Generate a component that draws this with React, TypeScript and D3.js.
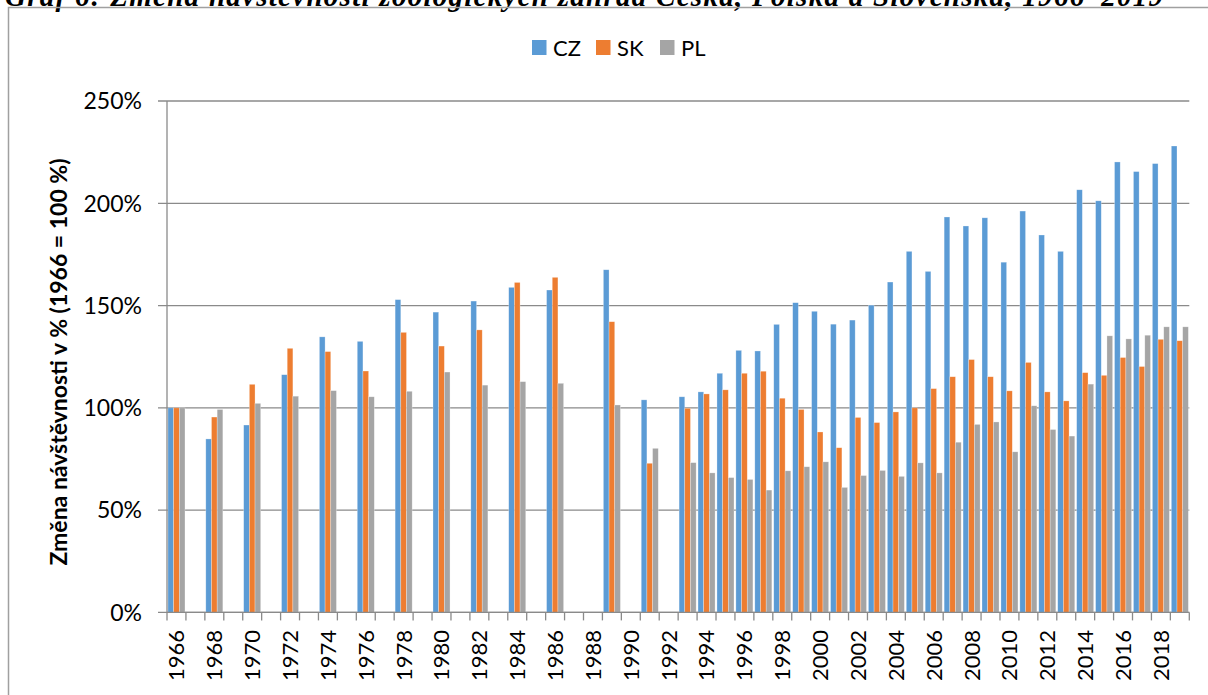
import { useEffect, useRef } from 'react';
import * as d3 from 'd3';

// kategorie (roky) a hodnoty v % (1966 = 100 %)
const YEARS = [
  1966, 1967, 1968, 1969, 1970, 1971, 1972, 1973, 1974, 1975,
  1976, 1977, 1978, 1979, 1980, 1981, 1982, 1983, 1984, 1985,
  1986, 1987, 1988, 1989, 1990, 1991, 1992, 1993, 1994, 1995,
  1996, 1997, 1998, 1999, 2000, 2001, 2002, 2003, 2004, 2005,
  2006, 2007, 2008, 2009, 2010, 2011, 2012, 2013, 2014, 2015,
  2016, 2017, 2018, 2019,
];
const LABELED_YEARS = YEARS.filter((y) => y % 2 === 0);

const CZ = [
  100, null, 84.8, null, 91.6, null, 116.2, null, 134.7, null,
  132.5, null, 152.9, null, 146.8, null, 152.2, null, 158.9, null,
  157.6, null, null, 167.5, null, 103.9, null, 105.4, 107.8, 116.9,
  128.1, 127.8, 140.8, 151.4, 147.2, 140.9, 142.9, 150.2, 161.5, 176.5,
  166.7, 193.3, 188.9, 192.9, 171.2, 196.2, 184.5, 176.5, 206.6, 201.2,
  220.2, 215.5, 219.4, 228.0,
];
const SK = [
  100, null, 95.5, null, 111.5, null, 129.1, null, 127.5, null,
  118.0, null, 136.9, null, 130.2, null, 138.1, null, 161.3, null,
  163.8, null, null, 142.1, null, 72.9, null, 99.8, 106.8, 108.8,
  116.9, 117.9, 104.7, 99.2, 88.2, 80.5, 95.3, 92.8, 98.0, 100.0,
  109.4, 115.2, 123.6, 115.2, 108.3, 122.2, 107.8, 103.4, 117.2, 115.9,
  124.6, 120.2, 133.5, 132.8,
];
const PL = [
  100, null, 99.2, null, 102.2, null, 105.7, null, 108.4, null,
  105.4, null, 108.1, null, 117.5, null, 111.1, null, 112.8, null,
  112.0, null, null, 101.4, null, 80.2, null, 73.2, 68.2, 65.9,
  65.0, 59.8, 69.2, 71.2, 73.6, 61.1, 66.9, 69.4, 66.5, 73.1,
  68.2, 83.2, 91.9, 93.1, 78.5, 101.0, 89.4, 86.2, 111.6, 135.2,
  133.7, 135.5, 139.6, 139.6,
];

const SERIES_NAMES = ['CZ', 'SK', 'PL'];
const SERIES_VALUES = [CZ, SK, PL];
const COLORS = ['#5B9BD5', '#ED7D31', '#A5A5A5'];
const Y_TICKS = [0, 50, 100, 150, 200, 250];

const TITLE = 'Graf 6: Změna návštěvnosti zoologických zahrad Česka, Polska a Slovenska, 1966–2019';
const Y_LABEL = 'Změna návštěvnosti v % (1966 = 100 %)';

export default function App() {
  const ref = useRef<SVGSVGElement | null>(null);

  useEffect(() => {
    if (!ref.current) return;
    const svg = d3.select(ref.current);
    svg.selectAll('*').remove();

    const W = 1208;
    const H = 695;
    const plot = { left: 167, right: 1189.3, top: 101, bottom: 612.4 };
    const font = 'Lato, "Open Sans", sans-serif';
    const gridColor = '#8a8a8a';

    svg.append('rect').attr('width', W).attr('height', H).attr('fill', '#fff');

    // nadpis (nahoře useknutý, tak jako ve stránce dokumentu)
    svg.append('text')
      .attr('x', 5)
      .attr('y', 5.5)
      .attr('textLength', 1158)
      .style('font-family', '"Liberation Serif", "Times New Roman", serif')
      .style('font-size', '29px')
      .style('font-weight', 'bold')
      .style('font-style', 'italic')
      .attr('fill', '#000')
      .text(TITLE);

    // rámeček grafu
    svg.append('rect')
      .attr('x', 8.5)
      .attr('y', 7.5)
      .attr('width', W + 20)
      .attr('height', H + 20)
      .attr('fill', 'none')
      .attr('stroke', '#a0a0a0')
      .attr('stroke-width', 1.5);

    const x = d3.scaleBand<number>()
      .domain(YEARS)
      .range([plot.left, plot.right])
      .paddingInner(0.1)
      .paddingOuter(0.05);
    const step = x.step();

    const xs = d3.scaleBand<string>()
      .domain(SERIES_NAMES)
      .range([0, x.bandwidth()]);

    const y = d3.scaleLinear().domain([0, 250]).range([plot.bottom, plot.top]);

    // mřížka
    svg.append('g')
      .selectAll('line')
      .data(Y_TICKS)
      .enter()
      .append('line')
      .attr('x1', plot.left - 9)
      .attr('x2', plot.right)
      .attr('y1', (d) => y(d))
      .attr('y2', (d) => y(d))
      .attr('stroke', gridColor)
      .attr('stroke-width', 1.3);

    // popisky osy Y
    svg.append('g')
      .selectAll('text')
      .data(Y_TICKS)
      .enter()
      .append('text')
      .attr('x', 142)
      .attr('y', (d) => y(d))
      .attr('dy', '0.36em')
      .attr('text-anchor', 'end')
      .style('font-family', font)
      .style('font-size', '23px')
      .attr('fill', '#000')
      .text((d) => `${d}%`);

    // sloupce
    SERIES_VALUES.forEach((vals, si) => {
      const data = YEARS.map((yr, i) => ({ yr, v: vals[i] })).filter((d) => d.v !== null) as { yr: number; v: number }[];
      svg.append('g')
        .selectAll('rect')
        .data(data)
        .enter()
        .append('rect')
        .attr('x', (d) => (x(d.yr) as number) + (xs(SERIES_NAMES[si]) as number))
        .attr('y', (d) => y(d.v))
        .attr('width', xs.bandwidth())
        .attr('height', (d) => y(0) - y(d.v))
        .attr('fill', COLORS[si])
        .attr('stroke', '#ffffff')
        .attr('stroke-opacity', 0.45)
        .attr('stroke-width', 0.6);
    });

    // osa Y
    svg.append('line')
      .attr('x1', plot.left).attr('x2', plot.left)
      .attr('y1', plot.top).attr('y2', plot.bottom)
      .attr('stroke', gridColor).attr('stroke-width', 1.3);

    // osa X
    svg.append('line')
      .attr('x1', plot.left).attr('x2', plot.right)
      .attr('y1', plot.bottom).attr('y2', plot.bottom)
      .attr('stroke', gridColor).attr('stroke-width', 1.3);

    const boundaries = YEARS.map((yr) => (x(yr) as number) - (step * x.paddingInner()) / 2);
    boundaries.push(plot.right);
    svg.append('g')
      .selectAll('line')
      .data(boundaries)
      .enter()
      .append('line')
      .attr('x1', (d) => d).attr('x2', (d) => d)
      .attr('y1', plot.bottom).attr('y2', plot.bottom + 8)
      .attr('stroke', gridColor).attr('stroke-width', 1.3);

    svg.append('g')
      .selectAll('text')
      .data(LABELED_YEARS)
      .enter()
      .append('text')
      .attr('transform', (d) => `translate(${(x(d) as number) + x.bandwidth() / 2}, 630) rotate(-90)`)
      .attr('dy', '0.36em')
      .attr('text-anchor', 'end')
      .style('font-family', font)
      .style('font-size', '22px')
      .attr('fill', '#000')
      .text((d) => String(d));

    // název osy Y
    svg.append('text')
      .attr('transform', 'translate(67, 362) rotate(-90)')
      .attr('text-anchor', 'middle')
      .style('font-family', font)
      .style('font-size', '23px')
      .style('font-weight', 'bold')
      .attr('fill', '#000')
      .text(Y_LABEL);

    // legenda
    const legend = svg.append('g').attr('transform', 'translate(532, 40)');
    SERIES_NAMES.forEach((name, i) => {
      const g = legend.append('g').attr('transform', `translate(${i * 64}, 0)`);
      g.append('rect').attr('width', 14.5).attr('height', 15).attr('fill', COLORS[i]);
      g.append('text')
        .attr('x', 21)
        .attr('y', 16)
        .style('font-family', font)
        .style('font-size', '22px')
        .attr('fill', '#000')
        .text(name);
    });
  }, []);

  return (
    <svg
      ref={ref}
      width={1208}
      height={695}
      style={{ position: 'absolute', left: 0, top: 0, display: 'block' }}
    />
  );
}
